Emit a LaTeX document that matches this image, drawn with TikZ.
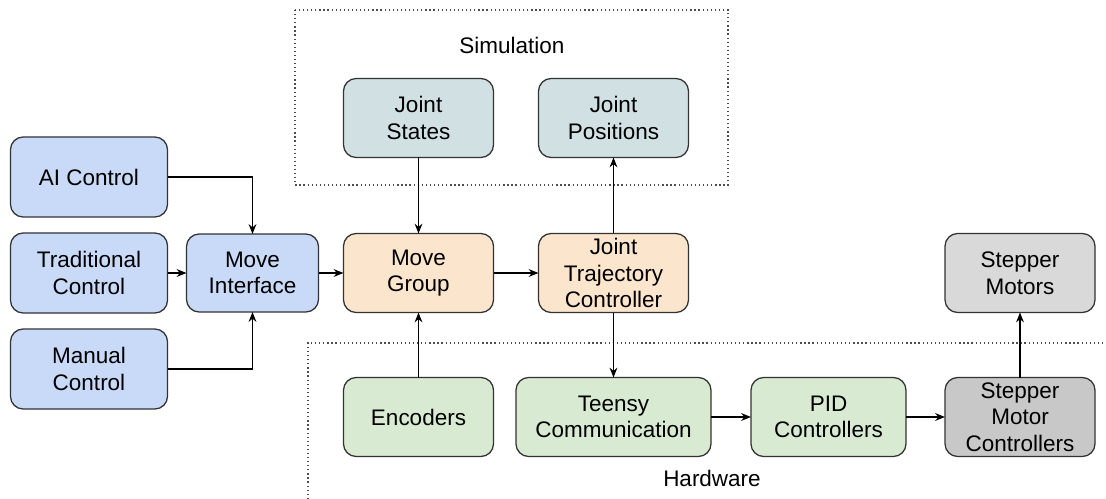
\documentclass[tikz,border=0pt]{standalone}
\usepackage{fontspec}
\setmainfont{Liberation Sans}
\usetikzlibrary{arrows.meta,positioning}
\definecolor{ctlblue}{HTML}{C9DAF8}
\definecolor{moveorange}{HTML}{FCE5CD}
\definecolor{simteal}{HTML}{D0E0E3}
\definecolor{hwgreen}{HTML}{D9EAD3}
\definecolor{motorgray}{HTML}{D9D9D9}
\definecolor{drvgray}{HTML}{C8C8C8}
\tikzset{blk/.style={draw=black!80, line width=0.9pt, rounded corners=9pt, align=center, inner sep=1pt, outer sep=0pt, minimum width=3.75cm, minimum height=1.975cm, font=\fontsize{16}{19}\selectfont}}
\tikzstyle{frame}=[dotted, line width=0.9pt, draw=black!70]

\begin{document}
\begin{tikzpicture}[>={Stealth[length=7pt,width=5.5pt]}, line width=0.9pt]
\useasboundingbox (0,0) rectangle (27.65,-12.475);
% dotted regions
\draw[frame] (7.375,-0.25) rectangle (18.2,-4.625);
\node[font=\fontsize{16}{19}\selectfont] (simlabel) at (12.8,-1.125) {Simulation};
\draw[frame] (7.7,-12.475) -- (7.7,-8.575) -- (27.65,-8.575);
\node[font=\fontsize{16}{19}\selectfont] (hwlabel) at (17.8,-11.95) {Hardware};

% control inputs
\node[blk, fill=ctlblue, minimum width=3.925cm, minimum height=2cm] (trad) at (2.225,-6.825) {Traditional\\Control};
\node[blk, fill=ctlblue, minimum width=3.925cm, minimum height=2cm, above=0.4cm of trad] (ai) {AI Control};
\node[blk, fill=ctlblue, minimum width=3.925cm, minimum height=2cm, below=0.4cm of trad] (manual) {Manual\\Control};
\node[blk, fill=ctlblue, minimum width=3.3cm, minimum height=1.95cm, right=0.475cm of trad] (mi) {Move\\Interface};

% motion planning
\node[blk, fill=moveorange, right=0.625cm of mi] (mg) {Move\\Group};
\node[blk, fill=moveorange, right=1.125cm of mg] (jtc) {Joint\\Trajectory\\Controller};
\node[blk, fill=simteal, above=1.9cm of mg] (js) {Joint\\States};
\node[blk, fill=simteal, above=1.9cm of jtc] (jp) {Joint\\Positions};

% hardware chain
\node[blk, fill=hwgreen, below=1.625cm of mg] (enc) {Encoders};
\node[blk, fill=hwgreen, minimum width=4.875cm, below=1.625cm of jtc] (teensy) {Teensy\\Communication};
\node[blk, fill=hwgreen, minimum width=3.875cm, right=1.0cm of teensy] (pid) {PID\\Controllers};
\node[blk, fill=drvgray, right=0.975cm of pid] (smc) {Stepper\\Motor\\Controllers};
\node[blk, fill=motorgray, above=1.625cm of smc] (sm) {Stepper\\Motors};

\draw[->] (ai) -| (mi);
\draw[->] (manual) -| (mi);
\draw[->] (trad) -- (mi);
\draw[->] (mi) -- (mg);
\draw[->] (mg) -- (jtc);
\draw[->] (js) -- (mg);
\draw[->] (enc) -- (mg);
\draw[->] (jtc) -- (jp);
\draw[->] (jtc) -- (teensy);
\draw[->] (teensy) -- (pid);
\draw[->] (pid) -- (smc);
\draw[->] (smc) -- (sm);
\end{tikzpicture}
\end{document}
